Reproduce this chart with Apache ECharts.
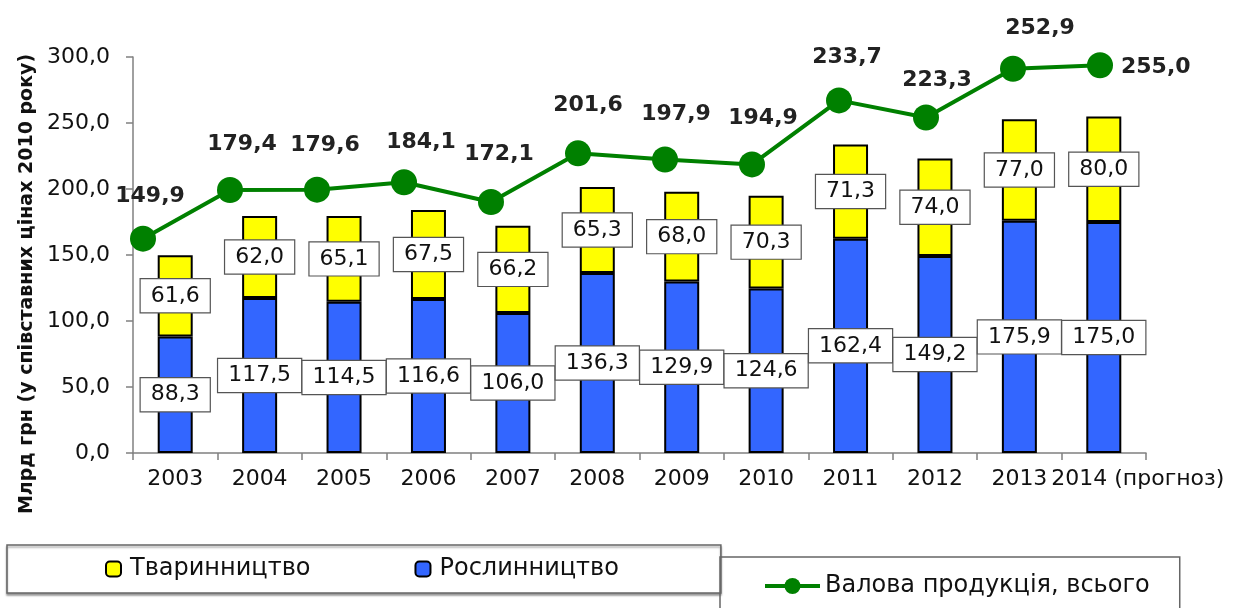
<!DOCTYPE html>
<html>
<head>
<meta charset="utf-8">
<script src="https://cdn.jsdelivr.net/npm/echarts@6/dist/echarts.min.js"></script>
<style>
  html, body { margin: 0; padding: 0; background: #fff; }
  #chart { width: 1233px; height: 608px; }
</style>
</head>
<body>
<div id="chart"></div>
<script>
  // роки
  var years = ['2003', '2004', '2005', '2006', '2007', '2008', '2009', '2010', '2011', '2012', '2013', '2014'];
  // Рослинництво (синій)
  var plantValues = [88.3, 117.5, 114.5, 116.6, 106.0, 136.3, 129.9, 124.6, 162.4, 149.2, 175.9, 175.0];
  // Тваринництво (жовтий)
  var animalValues = [61.6, 62.0, 65.1, 67.5, 66.2, 65.3, 68.0, 70.3, 71.3, 74.0, 77.0, 80.0];
  // Валова продукція, всього
  var totalValues = [149.9, 179.4, 179.6, 184.1, 172.1, 201.6, 197.9, 194.9, 233.7, 223.3, 252.9, 255.0];
  var yTicks = [0, 50, 100, 150, 200, 250, 300];

  // зсуви підписів лінії
  var labelShift = [[7, 2], [12, -2], [8, 0], [17, 4], [8, -4], [10, -4], [11, -1], [11, -2], [8, 1], [11, 7], [27, 4], null];

  var FONT = 'DejaVu Sans';
  function fmt(v) { return Number(v).toFixed(1).replace('.', ','); }

  var boxLabel = {
    show: true,
    position: 'inside',
    formatter: function (p) { return fmt(p.value); },
    fontFamily: FONT,
    fontSize: 22,
    color: '#111',
    backgroundColor: '#fff',
    borderColor: '#555',
    borderWidth: 1.2,
    padding: [6, 10, 5, 10]
  };

  var lineData = totalValues.map(function (v, i) {
    var s = labelShift[i];
    if (!s) {
      return { value: v, label: { position: 'right', distance: 8, offset: [0, 2] } };
    }
    return { value: v, label: { offset: s } };
  });

  var xLabels = years.map(function (y, i) {
    if (i === years.length - 1) return y + ' (прогноз)';
    return y;
  });

  var myChart = echarts.init(document.getElementById('chart'));
  myChart.setOption({
    animation: false,
    backgroundColor: '#fff',
    textStyle: { fontFamily: FONT },
    legend: [
      {
        data: ['Тваринництво', 'Рослинництво'],
        left: 7,
        top: 545,
        orient: 'horizontal',
        padding: [12, 102, 12, 98],
        itemGap: 104,
        itemWidth: 15,
        itemHeight: 15,
        borderColor: '#666',
        borderWidth: 1.5,
        shadowColor: 'rgba(0,0,0,0.35)',
        shadowOffsetY: 2,
        shadowBlur: 2,
        backgroundColor: '#fff',
        selectedMode: false,
        textStyle: { fontFamily: FONT, fontSize: 24, color: '#111', padding: [0, 0, 0, 4] }
      },
      {
        data: ['Валова продукція, всього'],
        left: 720,
        top: 557,
        padding: [17, 30, 40, 43],
        itemWidth: 55,
        itemHeight: 20,
        borderColor: '#666',
        borderWidth: 1.5,
        selectedMode: false,
        lineStyle: { width: 4, color: '#008000' },
        textStyle: { fontFamily: FONT, fontSize: 24, color: '#111' }
      }
    ],
    grid: [
      { left: 133, right: 87, top: 57, bottom: 155 },
      { left: 143, right: 133, top: 57, bottom: 155 }
    ],
    xAxis: [
      {
        type: 'category',
        gridIndex: 0,
        data: xLabels,
        axisLine: { lineStyle: { color: '#808080', width: 1.5 } },
        axisTick: { show: true, length: 7, lineStyle: { color: '#808080', width: 1.5 } },
        axisLabel: {
          interval: 0,
          margin: 15,
          fontFamily: FONT,
          fontSize: 22,
          color: '#111',
          formatter: function (v) {
            var parts = v.split(' ');
            if (parts.length > 1) return '{a|' + parts[0] + '}{b| ' + parts[1] + '}';
            return v;
          },
          rich: {
            a: { fontFamily: FONT, fontSize: 22, color: '#111', padding: [0, 0, 0, 68] },
            b: { fontFamily: FONT, fontSize: 22, color: '#111' }
          }
        }
      },
      {
        type: 'category',
        gridIndex: 1,
        data: years,
        boundaryGap: false,
        show: false
      }
    ],
    yAxis: [
      {
        type: 'value',
        gridIndex: 0,
        min: yTicks[0],
        max: yTicks[yTicks.length - 1],
        interval: 50,
        name: 'Млрд грн (у співставних цінах 2010 року)',
        nameLocation: 'middle',
        nameRotate: 90,
        nameGap: 96,
        nameTextStyle: { fontFamily: FONT, fontSize: 19, fontWeight: 'bold', color: '#111', padding: [0, 58, 0, 0] },
        splitLine: { show: false },
        axisLine: { show: true, lineStyle: { color: '#808080', width: 1.5 } },
        axisTick: { show: true, length: 7, lineStyle: { color: '#808080', width: 1.5 } },
        axisLabel: {
          margin: 23,
          fontFamily: FONT,
          fontSize: 22,
          color: '#111',
          formatter: function (v) { return fmt(v); }
        }
      },
      {
        type: 'value',
        gridIndex: 1,
        min: 20,
        max: 260,
        show: false,
        splitLine: { show: false }
      }
    ],
    series: [
      {
        name: 'Рослинництво',
        type: 'bar',
        stack: 'total',
        xAxisIndex: 0,
        yAxisIndex: 0,
        barWidth: 35,
        data: plantValues,
        itemStyle: { color: '#3366ff', borderColor: '#000', borderWidth: 2 },
        label: boxLabel
      },
      {
        name: 'Тваринництво',
        type: 'bar',
        stack: 'total',
        xAxisIndex: 0,
        yAxisIndex: 0,
        barWidth: 35,
        data: animalValues,
        itemStyle: { color: '#ffff00', borderColor: '#000', borderWidth: 2 },
        label: boxLabel
      },
      {
        name: 'Валова продукція, всього',
        type: 'line',
        xAxisIndex: 1,
        yAxisIndex: 1,
        z: 5,
        data: lineData,
        symbol: 'circle',
        symbolSize: 26,
        lineStyle: { color: '#008000', width: 4 },
        itemStyle: { color: '#008000' },
        label: {
          show: true,
          position: 'top',
          distance: 20,
          formatter: function (p) { return fmt(p.value); },
          fontFamily: FONT,
          fontSize: 22,
          fontWeight: 'bold',
          color: '#222'
        }
      }
    ]
  });
  window.addEventListener('resize', function () {
    myChart.resize();
  });
</script>
</body>
</html>
